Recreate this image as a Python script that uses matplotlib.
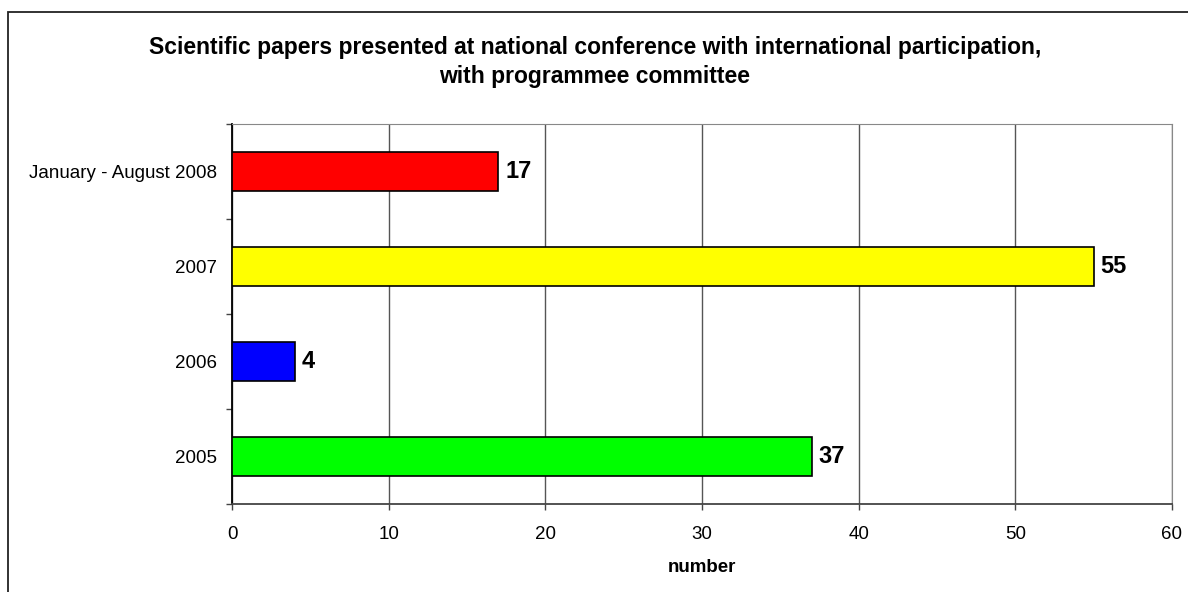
import matplotlib.pyplot as plt
from matplotlib.patches import Rectangle

plt.rcParams['font.family'] = ['Liberation Sans', 'DejaVu Sans']

categorias = ['2005', '2006', '2007', 'January - August 2008']
valores = [37, 4, 55, 17]
colores = ['#00ff00', '#0000ff', '#ffff00', '#ff0000']
titulo = ('Scientific papers presented at national conference with international participation,\n'
          'with programmee committee')

fig = plt.figure(figsize=(11.88, 5.92), dpi=100)
# marco exterior (solo se ven borde izquierdo y superior)
fig.patches.append(Rectangle((8 / 1188, -0.05), 1.1, 0.05 + 1 - 12 / 592,
                             transform=fig.transFigure, fill=False,
                             edgecolor='#222222', linewidth=1.3))

ax = fig.add_axes([232 / 1188, 1 - 504 / 592, 940 / 1188, 380 / 592])
pos = range(len(categorias))
ax.barh(pos, valores, height=0.42, color=colores, edgecolor='black', linewidth=1.2, zorder=3)
for p, v in zip(pos, valores):
    ax.text(v + 0.45, p, str(v), va='center', ha='left', fontsize=17, fontweight='bold')

ax.set_xlim(0, 60)
ax.set_ylim(-0.5, len(categorias) - 0.5)
ax.set_xticks(range(0, 61, 10))
ax.set_yticks(list(pos))
ax.set_yticklabels(categorias, fontsize=13.5)
ax.set_yticks([i - 0.5 for i in range(len(categorias) + 1)], minor=True)
ax.tick_params(axis='y', which='major', length=0, pad=11)
ax.tick_params(axis='y', which='minor', length=4.5, width=1, color='#444444')
ax.tick_params(axis='x', length=4.5, width=1, labelsize=13.5, pad=11, color='#444444')
ax.xaxis.grid(True, color='#555555', linewidth=1, zorder=0)

ax.spines['left'].set_color('black')
ax.spines['left'].set_linewidth(1.3)
ax.spines['bottom'].set_color('#444444')
ax.spines['bottom'].set_linewidth(1.3)
ax.spines['top'].set_color('#888888')
ax.spines['right'].set_color('#888888')

ax.set_xlabel('number', fontsize=13.5, fontweight='bold', labelpad=12)
fig.text(595 / 1188, 1 - 62 / 592, titulo, ha='center', va='center',
         fontsize=16.5, fontweight='bold', linespacing=1.3)

plt.savefig('out.png', dpi=100)
